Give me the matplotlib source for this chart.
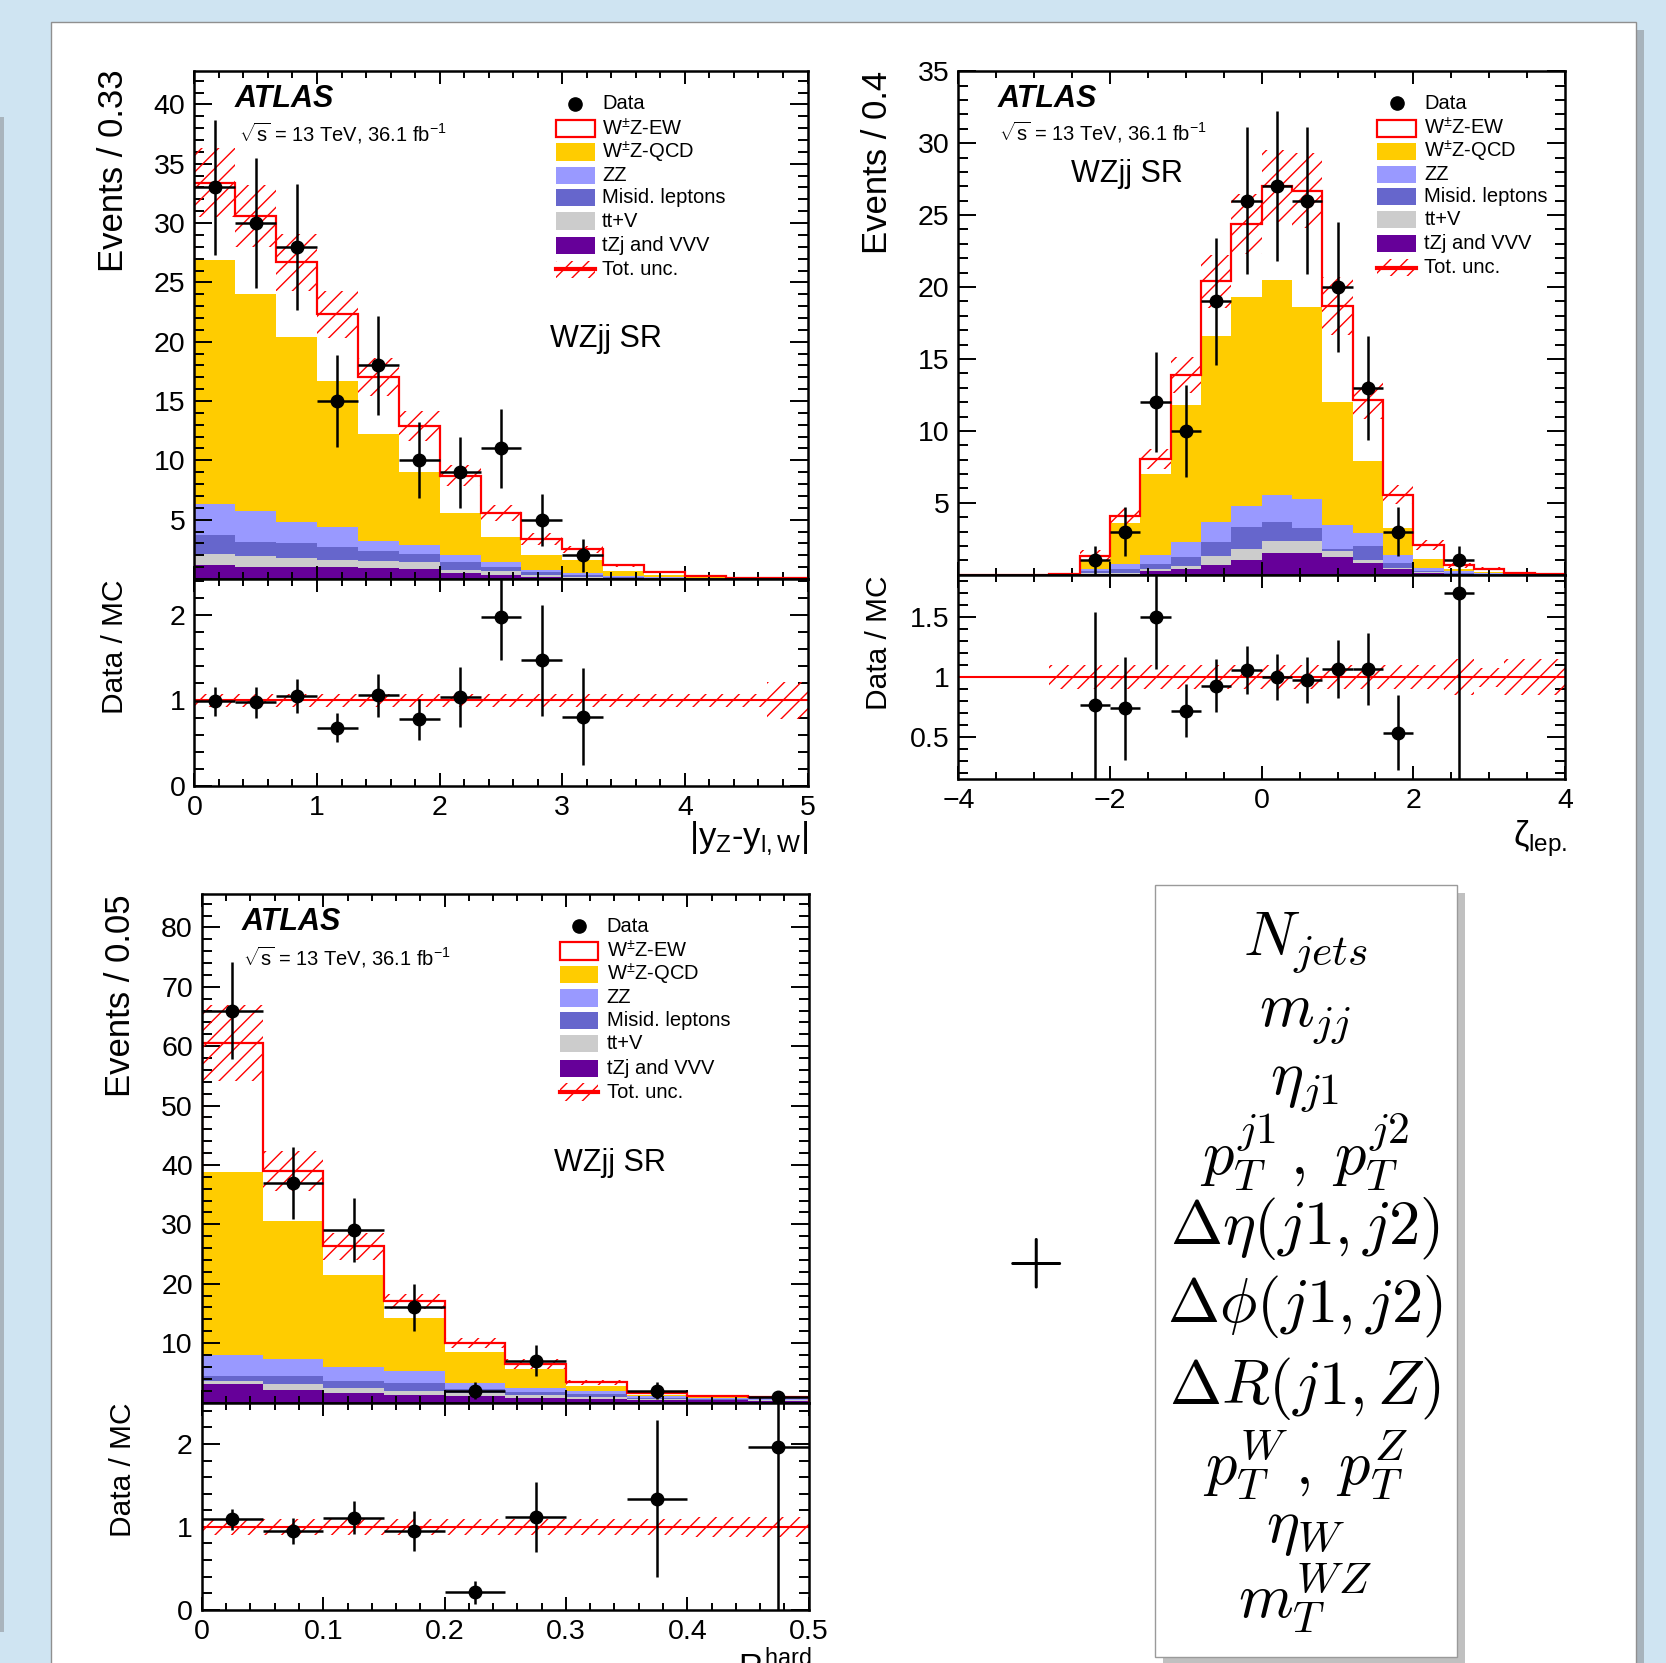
import numpy as np
import matplotlib
matplotlib.use("Agg")
import matplotlib.pyplot as plt
from matplotlib.patches import Rectangle
from matplotlib.lines import Line2D
from matplotlib.ticker import MultipleLocator, FuncFormatter

plt.rcParams['font.family'] = ['Liberation Sans', 'DejaVu Sans']
plt.rcParams['mathtext.fontset'] = 'custom'
plt.rcParams['mathtext.rm'] = 'Liberation Sans'
plt.rcParams['mathtext.it'] = 'Liberation Sans'
plt.rcParams['mathtext.bf'] = 'Liberation Sans:bold'
plt.rcParams['mathtext.sf'] = 'Liberation Sans'
plt.rcParams['hatch.linewidth'] = 1.0

nan = np.nan

# ---------------- legend / style data ----------------
LEGEND_LABELS = ['Data', r'W$^{\pm}$Z-EW', r'W$^{\pm}$Z-QCD', 'ZZ', 'Misid. leptons',
                 'tt+V', 'tZj and VVV', 'Tot. unc.']
STACK_COLORS = ['#660099', '#cccccc', '#6666cc', '#9999ff', '#ffcc00']  # tZj, ttV, misid, ZZ, QCD

# ---------------- panel A : |yZ - yl,W| ----------------
A_edges = np.linspace(0.0, 5.0, 16)
A_tzj   = [1.2, 1.05, 1.05, 1.0, 0.9, 0.85, 0.5, 0.35, 0.2, 0.1, 0.05, 0.03, 0.01, 0.01, 0.0]
A_ttv   = [0.9, 0.85, 0.75, 0.6, 0.6, 0.55, 0.3, 0.3, 0.16, 0.1, 0.05, 0.02, 0.01, 0.0, 0.01]
A_misid = [1.6, 1.2, 1.2, 1.1, 0.9, 0.7, 0.6, 0.4, 0.24, 0.16, 0.08, 0.05, 0.02, 0.01, 0.0]
A_zz    = [2.6, 2.6, 1.8, 1.7, 0.8, 0.8, 0.6, 0.35, 0.2, 0.14, 0.1, 0.05, 0.02, 0.01, 0.01]
A_qcd   = [20.6, 18.3, 15.6, 12.3, 9.0, 6.1, 3.6, 2.1, 1.25, 1.1, 0.37, 0.2, 0.11, 0.05, 0.02]
A_ew    = [6.5, 6.6, 6.3, 5.6, 4.8, 3.9, 3.1, 2.05, 1.35, 0.9, 0.5, 0.25, 0.05, 0.02, 0.01]
A_unc   = [2.9, 2.65, 2.4, 2.0, 1.6, 1.25, 0.9, 0.7, 0.5, 0.3, 0.15, 0.1, 0.05, 0.03, 0.02]
A_data  = [33, 30, 28, 15, 18, 10, 9, 11, 5, 2, 0, 0, 0, 0, 0]
A_derr  = [5.7, 5.5, 5.3, 3.9, 4.2, 3.2, 3.0, 3.3, 2.2, 1.4, 0, 0, 0, 0, 0]
A_ratio = [0.99, 0.98, 1.05, 0.68, 1.06, 0.78, 1.04, 1.97, 1.47, 0.81, nan, nan, nan, nan, nan]
A_rerr  = [0.17, 0.18, 0.2, 0.17, 0.25, 0.24, 0.35, 0.5, 0.65, 0.57, nan, nan, nan, nan, nan]
A_rband = [0.08, 0.08, 0.08, 0.08, 0.08, 0.08, 0.08, 0.08, 0.08, 0.08, 0.08, 0.08, 0.08, 0.08, 0.22]

# ---------------- panel B : zeta_lep ----------------
B_edges = np.linspace(-4.0, 4.0, 21)
B_tzj   = [0, 0, 0, 0.01, 0.09, 0.09, 0.25, 0.37, 0.65, 1.0, 1.5, 1.52, 1.22, 0.83, 0.42, 0.14, 0.05, 0.02, 0.01, 0]
B_ttv   = [0, 0, 0, 0.01, 0.05, 0.05, 0.12, 0.23, 0.69, 0.8, 0.86, 0.86, 0.42, 0.23, 0.06, 0.04, 0.02, 0.01, 0, 0]
B_misid = [0, 0, 0, 0, 0.11, 0.23, 0.35, 0.62, 0.92, 1.5, 1.29, 0.88, 0.12, 0.93, 0.35, 0.07, 0.07, 0.02, 0.01, 0.01]
B_zz    = [0, 0, 0, 0.01, 0.17, 0.39, 0.69, 1.07, 1.39, 1.5, 1.92, 2.01, 1.73, 0.92, 0.58, 0.23, 0.11, 0.05, 0.02, 0.01]
B_qcd   = [0, 0, 0, 0.02, 0.58, 2.84, 5.59, 9.51, 12.95, 14.5, 14.93, 13.33, 8.51, 4.99, 1.85, 0.62, 0.12, 0.08, 0.03, 0.01]
B_ew    = [0, 0, 0, 0.02, 0.34, 0.46, 1.04, 2.1, 3.8, 5.1, 6.5, 8.1, 6.7, 4.25, 2.31, 0.96, 0.28, 0.24, 0.07, 0.04]
B_unc   = [0, 0, 0, 0.03, 0.35, 0.58, 0.7, 1.27, 1.85, 2.1, 2.5, 2.6, 2.0, 1.3, 0.65, 0.35, 0.15, 0.1, 0.05, 0.03]
B_data  = [0, 0, 0, 0, 1, 3, 12, 10, 19, 26, 27, 26, 20, 13, 3, 0, 1, 0, 0, 0]
B_derr  = [0, 0, 0, 0, 1.0, 1.7, 3.5, 3.2, 4.4, 5.1, 5.2, 5.1, 4.5, 3.6, 1.7, 0, 1.0, 0, 0, 0]
B_ratio = [nan, nan, nan, nan, 0.77, 0.74, 1.50, 0.72, 0.93, 1.06, 1.0, 0.975, 1.07, 1.07, 0.54, nan, 1.705, nan, nan, nan]
B_rerr  = [nan, nan, nan, nan, 0.77, 0.43, 0.43, 0.22, 0.22, 0.20, 0.19, 0.19, 0.24, 0.30, 0.31, nan, 1.65, nan, nan, nan]
B_rband = [0, 0, 0, 0.1, 0.1, 0.1, 0.1, 0.1, 0.1, 0.1, 0.1, 0.1, 0.1, 0.1, 0.1, 0.1, 0.15, 0.08, 0.15, 0.15]

# ---------------- panel C : R_pT^hard ----------------
C_edges = np.linspace(0.0, 0.5, 11)
C_tzj   = [3.1, 2.1, 1.67, 1.27, 1.1, 0.8, 0.63, 0.46, 0.35, 0.3]
C_ttv   = [0.5, 1.0, 0.73, 0.69, 0.57, 0.4, 0.37, 0.17, 0.11, 0.1]
C_misid = [0.8, 1.3, 1.2, 1.24, 0.58, 0.6, 0.4, 0.17, 0.12, 0.1]
C_zz    = [3.6, 2.9, 2.4, 2.1, 1.1, 0.6, 0.56, 0.3, 0.22, 0.2]
C_qcd   = [30.8, 23.3, 15.4, 8.9, 5.15, 3.3, 0.84, 0.2, 0.1, 0.05]
C_ew    = [21.8, 8.4, 4.9, 2.85, 1.5, 0.75, 0.6, 0.37, 0.2, 0.1]
C_unc   = [6.4, 3.4, 2.25, 1.3, 0.86, 0.8, 0.46, 0.25, 0.15, 0.12]
C_data  = [66, 37, 29, 16, 2, 7, 0, 2, 0, 1]
C_derr  = [8.1, 6.1, 5.4, 4.0, 1.4, 2.6, 0, 1.4, 0, 1.0]
C_ratio = [1.09, 0.95, 1.11, 0.95, 0.21, 1.12, nan, 1.34, nan, 1.96]
C_rerr  = [0.13, 0.155, 0.2, 0.24, 0.14, 0.42, nan, 0.95, nan, 1.96]
C_rband = [0.1, 0.1, 0.1, 0.1, 0.1, 0.1, 0.1, 0.1, 0.12, 0.12]

# ---------------- right box ----------------
BOX_LINES = [r'$N_{jets}$', r'$m_{jj}$', r'$\eta_{j1}$', r'$p_T^{j1}\,,\;p_T^{j2}$',
             r'$\Delta\eta(j1,j2)$', r'$\Delta\phi(j1,j2)$', r'$\Delta R(j1,Z)$',
             r'$p_T^{W}\,,\;p_T^{Z}$', r'$\eta_{W}$', r'$m_T^{WZ}$']
BOX_Y = [943, 1017, 1084, 1152, 1228, 1307, 1388, 1465, 1529, 1598]

# ================= figure =================
W, H = 1666, 1663
fig = plt.figure(figsize=(W / 100, H / 100), dpi=100)
fig.patch.set_facecolor('#cfe4f2')

def fx(x):
    return x / W

def fy(y):
    return 1 - y / H

# slide background pieces
fig.patches.append(Rectangle((0, fy(1632)), fx(4), (1632 - 117) / H, transform=fig.transFigure,
                             facecolor='#a9b4bd', edgecolor='none', zorder=-20))
fig.patches.append(Rectangle((fx(1636), 0), fx(8), fy(30), transform=fig.transFigure,
                             facecolor='#a7b3bc', edgecolor='none', zorder=-20))
fig.patches.append(Rectangle((fx(51), -0.01), fx(1636 - 51), fy(22) + 0.01, transform=fig.transFigure,
                             facecolor='white', edgecolor='#8f8f8f', lw=1.0, zorder=-19))


def fmt_factory(skip_zero=False):
    def f(v, pos):
        if skip_zero and abs(v) < 1e-9:
            return ''
        return f'{v:g}'.replace('-', '\u2212')
    return FuncFormatter(f)


def style_axis(a, xlim, ylim, xmaj, xmin, ymaj, ymin, show_x, skip_zero):
    a.set_xlim(*xlim)
    a.set_ylim(*ylim)
    a.xaxis.set_major_locator(MultipleLocator(xmaj))
    a.xaxis.set_minor_locator(MultipleLocator(xmin))
    a.yaxis.set_major_locator(MultipleLocator(ymaj))
    a.yaxis.set_minor_locator(MultipleLocator(ymin))
    a.yaxis.set_major_formatter(fmt_factory(skip_zero))
    a.xaxis.set_major_formatter(fmt_factory(False))
    for s in a.spines.values():
        s.set_linewidth(1.8)
        s.set_zorder(4)
    a.tick_params(which='both', direction='in', top=True, right=True, width=1.4,
                  labelsize=20.5, pad=6.5, labelbottom=show_x)
    a.tick_params(axis='x', which='major', length=9.5)
    a.tick_params(axis='x', which='minor', length=5)
    a.tick_params(axis='y', which='major', length=13)
    a.tick_params(axis='y', which='minor', length=7)


def draw_legend(ax, bx0, bx1, tx, rows, bh):
    kinds = ['data', 'ew', 'qcd', 'zz', 'misid', 'ttv', 'tzj', 'unc']
    fill = {'qcd': STACK_COLORS[4], 'zz': STACK_COLORS[3], 'misid': STACK_COLORS[2],
            'ttv': STACK_COLORS[1], 'tzj': STACK_COLORS[0]}
    for lab, kind, yy in zip(LEGEND_LABELS, kinds, rows):
        if kind == 'data':
            ax.add_line(Line2D([0.5 * (bx0 + bx1)], [yy], marker='o', color='black', ms=9.5,
                               transform=ax.transAxes, zorder=6))
        elif kind == 'ew':
            ax.add_patch(Rectangle((bx0, yy - bh / 2), bx1 - bx0, bh, transform=ax.transAxes,
                                   facecolor='white', edgecolor='red', lw=1.6, zorder=6))
        elif kind == 'unc':
            ax.add_patch(Rectangle((bx0, yy - bh / 2), bx1 - bx0, bh, transform=ax.transAxes,
                                   facecolor='none', edgecolor='red', hatch='//', lw=0, zorder=6))
            ax.add_line(Line2D([bx0, bx1], [yy, yy], color='red', lw=3, transform=ax.transAxes, zorder=6))
        else:
            ax.add_patch(Rectangle((bx0, yy - bh / 2), bx1 - bx0, bh, transform=ax.transAxes,
                                   facecolor=fill[kind], edgecolor='none', lw=0, zorder=6))
        ax.text(tx, yy, lab, transform=ax.transAxes, fontsize=14.5, ha='left', va='center', zorder=6)


def panel(px, edges, comps, ew, unc, data, derr, ratio, rerr, rband, cfg):
    x0, x1, yt, yb, yr = px
    ax = fig.add_axes([fx(x0), fy(yb), (x1 - x0) / W, (yb - yt) / H])
    rax = fig.add_axes([fx(x0), fy(yr), (x1 - x0) / W, (yr - yb) / H])
    edges = np.asarray(edges)
    centers = 0.5 * (edges[1:] + edges[:-1])
    half = 0.5 * np.diff(edges)
    base = np.zeros(len(centers))
    for vals, col in zip(comps, STACK_COLORS):
        top = base + np.asarray(vals, float)
        ax.stairs(top, edges, baseline=base, fill=True, facecolor=col, edgecolor='none', lw=0, zorder=1)
        base = top
    total = base + np.asarray(ew, float)
    ax.stairs(total, edges, baseline=base, fill=True, facecolor='white', edgecolor='none', lw=0, zorder=1)
    unc = np.asarray(unc, float)
    ax.stairs(total + unc, edges, baseline=total - unc, fill=True, facecolor='none',
              edgecolor='red', hatch='//', lw=0, zorder=1.8)
    ax.stairs(total, edges, baseline=0, color='red', lw=1.6, zorder=2)
    data = np.asarray(data, float)
    derr = np.asarray(derr, float)
    m = data > 0
    ax.errorbar(centers[m], data[m], xerr=half[m], yerr=derr[m], fmt='o', color='black',
                ms=9, elinewidth=1.8, capsize=0, zorder=5)

    # ratio
    rax.axhline(1.0, color='red', lw=1.5, zorder=2)
    rb = np.asarray(rband, float)
    rax.stairs(1 + rb, edges, baseline=1 - rb, fill=True, facecolor='none', edgecolor='red',
               hatch='//', lw=0, zorder=1.8)
    ratio = np.asarray(ratio, float)
    rerr = np.asarray(rerr, float)
    mr = ~np.isnan(ratio)
    rax.errorbar(centers[mr], ratio[mr], xerr=half[mr], yerr=rerr[mr], fmt='o', color='black',
                 ms=9, elinewidth=1.8, capsize=0, zorder=5)

    style_axis(ax, cfg['xlim'], cfg['ylim'], cfg['xmaj'], cfg['xmin'], cfg['ymaj'], cfg['ymin'],
               False, True)
    style_axis(rax, cfg['xlim'], cfg['rylim'], cfg['xmaj'], cfg['xmin'], cfg['rymaj'], cfg['rymin'],
               True, False)

    # texts
    ax.text(cfg['atlas'][0], cfg['atlas'][1], 'ATLAS', transform=ax.transAxes, fontsize=22,
            fontweight='bold', fontstyle='italic', ha='left', va='center', zorder=6)
    ax.text(cfg['sqrts'][0], cfg['sqrts'][1], r'$\sqrt{s}$ = 13 TeV, 36.1 fb$^{-1}$',
            transform=ax.transAxes, fontsize=14.5, ha='left', va='center', zorder=6)
    ax.text(cfg['sr'][0], cfg['sr'][1], 'WZjj SR', transform=ax.transAxes, fontsize=22,
            ha='left', va='center', zorder=6)
    draw_legend(ax, cfg['leg'][0], cfg['leg'][1], cfg['leg'][2], cfg['rows'], 0.034)
    return ax, rax


rows_std = [0.936, 0.887, 0.841, 0.795, 0.751, 0.705, 0.657, 0.610]

cfgA = dict(xlim=(0, 5), ylim=(0, 42.8), xmaj=1, xmin=0.2, ymaj=5, ymin=1,
            rylim=(0, 2.42), rymaj=1, rymin=0.2,
            atlas=(0.066, 0.946), sqrts=(0.073, 0.877), sr=(0.58, 0.472),
            leg=(0.589, 0.653, 0.665), rows=rows_std)
cfgB = dict(xlim=(-4, 4), ylim=(0, 35), xmaj=2, xmin=0.5, ymaj=5, ymin=1,
            rylim=(0.153, 1.853), rymaj=0.5, rymin=0.1,
            atlas=(0.065, 0.945), sqrts=(0.0665, 0.878), sr=(0.186, 0.796),
            leg=(0.69, 0.755, 0.768), rows=rows_std)
cfgC = dict(xlim=(0, 0.5), ylim=(0, 85.7), xmaj=0.1, xmin=0.02, ymaj=10, ymin=2,
            rylim=(0, 2.5), rymaj=1, rymin=0.2,
            atlas=(0.065, 0.944), sqrts=(0.068, 0.874), sr=(0.581, 0.471),
            leg=(0.590, 0.653, 0.667), rows=rows_std)

panel((194.4, 807.5, 71.2, 579.0, 786.0), A_edges,
      [A_tzj, A_ttv, A_misid, A_zz, A_qcd], A_ew, A_unc, A_data, A_derr,
      A_ratio, A_rerr, A_rband, cfgA)
panel((958.4, 1565.0, 71.2, 574.8, 779.0), B_edges,
      [B_tzj, B_ttv, B_misid, B_zz, B_qcd], B_ew, B_unc, B_data, B_derr,
      B_ratio, B_rerr, B_rband, cfgB)
panel((201.9, 808.6, 893.6, 1402.5, 1609.7), C_edges,
      [C_tzj, C_ttv, C_misid, C_zz, C_qcd], C_ew, C_unc, C_data, C_derr,
      C_ratio, C_rerr, C_rband, cfgC)

# axis titles
fig.text(fx(113.7), fy(69), 'Events / 0.33', rotation=90, ha='center', va='top', fontsize=25)
fig.text(fx(877.6), fy(71), 'Events / 0.4', rotation=90, ha='center', va='top', fontsize=25)
fig.text(fx(120.0), fy(894.6), 'Events / 0.05', rotation=90, ha='center', va='top', fontsize=25)
fig.text(fx(115.3), fy(579), 'Data / MC', rotation=90, ha='center', va='top', fontsize=21.5)
fig.text(fx(879.0), fy(575), 'Data / MC', rotation=90, ha='center', va='top', fontsize=21.5)
fig.text(fx(122.7), fy(1402.5), 'Data / MC', rotation=90, ha='center', va='top', fontsize=21.5)
fig.text(fx(808), fy(839), r'$|y_{Z}$-$y_{l,W}|$', ha='right', va='center', fontsize=25)
fig.text(fx(1567), fy(839), r'$\zeta_{lep.}$', ha='right', va='center', fontsize=25)
fig.text(fx(811), fy(1645), r'$R^{hard}_{p_{T}}$', ha='right', va='top', fontsize=24)

# right box with variable list
fig.patches.append(Rectangle((fx(1163), fy(1670)), fx(1465 - 1163), (1670 - 893) / H,
                             transform=fig.transFigure, facecolor='#c0c0c0', edgecolor='none', zorder=-5))
fig.patches.append(Rectangle((fx(1155), fy(1657)), fx(1457 - 1155), (1657 - 885) / H,
                             transform=fig.transFigure, facecolor='white', edgecolor='#9a9a9a', lw=1.0, zorder=-4))
for txt, yy in zip(BOX_LINES, BOX_Y):
    fig.text(fx(1305), fy(yy), txt, ha='center', va='center', fontsize=45, math_fontfamily='cm')
fig.text(fx(1034), fy(1262), r'$+$', ha='center', va='center', fontsize=54, math_fontfamily='cm')

fig.savefig('out.png', dpi=100, facecolor=fig.get_facecolor())
